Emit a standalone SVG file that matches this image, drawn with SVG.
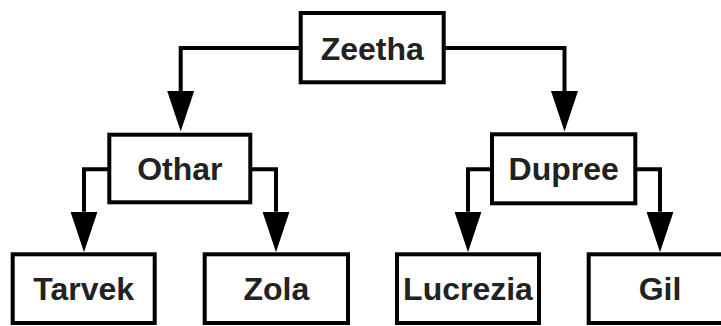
<svg xmlns="http://www.w3.org/2000/svg" width="721" height="326" viewBox="0 0 721 326">
  <style>
    .box { fill: #ffffff; stroke: #000000; stroke-width: 4; }
    .label { font-family: "Liberation Sans", Arial, sans-serif; font-weight: bold; font-size: 32px; fill: #222222; text-anchor: middle; }
    .edge { fill: none; stroke: #000000; stroke-width: 4; }
  </style>
  <defs>
    <marker id="arrow" viewBox="0 0 40.5 27" refX="0" refY="13.5" markerWidth="40.5" markerHeight="27" markerUnits="userSpaceOnUse" orient="auto">
      <path d="M0,0 L40.5,13.5 L0,27 Z" fill="#000000"/>
    </marker>
  </defs>
  <rect width="721" height="326" fill="#ffffff"/>

  <!-- connectors -->
  <g id="edges">
    <path class="edge" d="M301,48 H180.7 V91" marker-end="url(#arrow)"/>
    <path class="edge" d="M443.7,48 H564.5 V91" marker-end="url(#arrow)"/>
    <path class="edge" d="M109.3,169.3 H84 V211.7" marker-end="url(#arrow)"/>
    <path class="edge" d="M250.3,169.3 H276 V211.7" marker-end="url(#arrow)"/>
    <path class="edge" d="M492,169.3 H468 V211.7" marker-end="url(#arrow)"/>
    <path class="edge" d="M635.3,169.3 H660 V211.7" marker-end="url(#arrow)"/>
  </g>

  <!-- nodes -->
  <g id="node-zeetha">
    <rect class="box" x="300.7" y="13" width="143" height="69.3"/>
    <text class="label" x="372.2" y="60">Zeetha</text>
  </g>
  <g id="node-othar">
    <rect class="box" x="109.3" y="134.7" width="141" height="67.6"/>
    <text class="label" x="179.8" y="180">Othar</text>
  </g>
  <g id="node-dupree">
    <rect class="box" x="492" y="134.3" width="143.3" height="69"/>
    <text class="label" x="563.7" y="180">Dupree</text>
  </g>
  <g id="node-tarvek">
    <rect class="box" x="12.7" y="254.3" width="142" height="68.7"/>
    <text class="label" x="83.7" y="300">Tarvek</text>
  </g>
  <g id="node-zola">
    <rect class="box" x="204.7" y="254.3" width="143.3" height="68.7"/>
    <text class="label" x="276.3" y="300">Zola</text>
  </g>
  <g id="node-lucrezia">
    <rect class="box" x="397" y="254.3" width="142" height="68.7"/>
    <text class="label" x="468" y="300">Lucrezia</text>
  </g>
  <g id="node-gil">
    <rect class="box" x="588.7" y="254.3" width="143" height="68.7"/>
    <text class="label" x="660" y="300">Gil</text>
  </g>
</svg>
